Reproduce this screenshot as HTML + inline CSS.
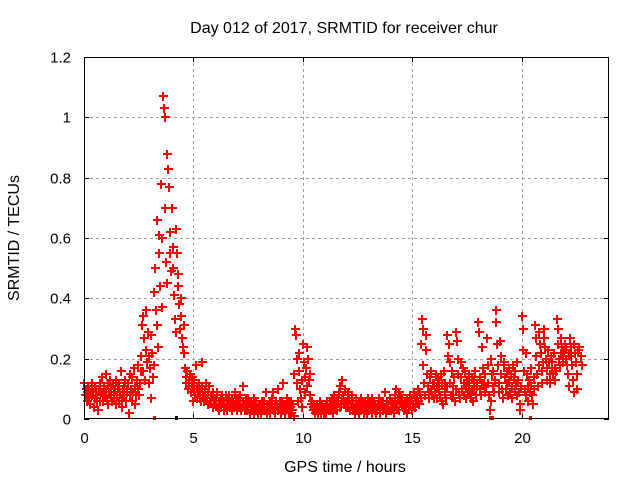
<!DOCTYPE html>
<html><head><meta charset="utf-8"><style>
html,body{margin:0;padding:0;background:#fff;}
svg{display:block;font-family:"Liberation Sans",Arial,sans-serif;}
</style></head><body>
<svg id="chart" width="640" height="480" viewBox="0 0 640 480" xmlns="http://www.w3.org/2000/svg">
<rect width="640" height="480" fill="#fff"/>
<text x="344" y="33" text-anchor="middle" font-size="16" fill="#000">Day 012 of 2017, SRMTID for receiver chur</text>
<text x="345" y="472" text-anchor="middle" font-size="16" fill="#000">GPS time / hours</text>
<text x="19" y="238" text-anchor="middle" font-size="16" fill="#000" transform="rotate(-90 19 238)">SRMTID / TECUs</text>
<g id="grid"></g>
<g id="marks"></g>
<g id="axes"></g>
</svg>
<script>
const xTicks = [0, 5, 10, 15, 20];
const yTicks = [0, 0.2, 0.4, 0.6, 0.8, 1, 1.2];
const yTickLabels = ["0", "0.2", "0.4", "0.6", "0.8", "1", "1.2"];
const bucketHours = 0.2;
const bucketValues = [
".12 .08 .10 .06 .09 .11",".10 .07 .05 .09 .12 .08",".09 .04 .11 .07 .10 .06",".08 .03 .10 .12 .06 .09",
".14 .09 .06 .11 .08 .15",".10 .07 .12 .05 .09 .13",".08 .11 .06 .12 .09 .07",".10 .05 .13 .08 .11 .06",
".12 .09 .16 .07 .04 .10",".11 .08 .13 .06 .10 .09",".12 .02 .08 .15 .10 .06",".14 .09 .17 .05 .11 .08",
".13 .18 .10 .08 .12 .16",".21 .31 .34 .16 .27 .13",".23 .36 .19 .29 .12 .21",".17 .28 .07 .22 .14 .18",
".42 .50 .36 .66 .31 .24",".61 .55 .44 .78 .37 .60","1.07 1.03 1.00 .70 .52 .45",".88 .83 .77 .62 .55 .49",
".70 .57 .50 .41 .33 .29",".63 .55 .48 .44 .38 .30",".40 .34 .27 .24 .31 .22",".17 .12 .14 .16 .10 .13",
".12 .15 .09 .14 .11 .06",".10 .13 .08 .18 .11 .07",".09 .12 .07 .10 .06 .11",".19 .08 .06 .10 .07 .12",
".07 .09 .05 .11 .06 .08",".06 .08 .04 .09 .07 .05",".07 .05 .09 .04 .06 .03",".05 .07 .04 .08 .06 .03",
".06 .04 .08 .05 .03 .07",".05 .08 .04 .06 .03 .07",".06 .04 .09 .05 .07 .03",".05 .07 .04 .06 .08 .03",
".04 .06 .11 .05 .03 .07",".05 .03 .07 .04 .06 .02",".04 .06 .03 .05 .07 .02",".05 .03 .06 .04 .02 .05",
".03 .05 .02 .04 .06 .03",".04 .06 .03 .09 .05 .02",".05 .03 .06 .02 .04 .07",".04 .09 .03 .05 .02 .06",
".05 .03 .10 .04 .06 .02",".04 .06 .03 .12 .05 .02",".05 .03 .07 .04 .02 .06",".04 .02 .06 .03 .05 .01",
".15 .30 .28 .20 .12 .06",".22 .16 .10 .07 .13 .04",".25 .19 .14 .09 .17 .11",".24 .20 .13 .08 .15 .05",
".06 .04 .03 .05 .02 .04",".03 .05 .02 .04 .03 .06",".04 .02 .05 .03 .04 .02",".03 .05 .02 .06 .04 .03",
".04 .06 .03 .05 .07 .02",".05 .08 .04 .06 .03 .07",".06 .09 .04 .11 .05 .07",".13 .08 .05 .10 .06 .04",
".06 .09 .04 .07 .03 .05",".05 .08 .03 .06 .04 .02",".04 .07 .03 .05 .06 .02",".05 .03 .07 .04 .06 .02",
".04 .06 .03 .05 .02 .07",".05 .03 .06 .04 .07 .02",".04 .06 .03 .05 .02 .04",".03 .05 .07 .04 .02 .06",
".05 .03 .06 .04 .09 .02",".04 .06 .03 .05 .03 .07",".05 .03 .06 .04 .02 .05",".08 .05 .10 .04 .07 .03",
".09 .06 .08 .05 .07 .04",".05 .03 .06 .04 .07 .02",".06 .04 .08 .05 .07 .03",".07 .05 .09 .04 .08 .06",
".08 .06 .10 .05 .09 .07",".25 .33 .30 .18 .12 .08",".28 .23 .15 .11 .09 .07",".14 .10 .16 .08 .12 .07",
".12 .09 .15 .07 .11 .14",".13 .10 .08 .15 .06 .12",".05 .16 .09 .12 .07 .11",".28 .21 .25 .19 .12 .08",
".16 .11 .08 .14 .06 .10",".29 .26 .20 .15 .09 .07",".19 .14 .10 .17 .08 .12",".16 .11 .07 .13 .09 .15",
".12 .09 .07 .14 .10 .06",".13 .10 .16 .08 .12 .11",".32 .29 .14 .10 .08 .12",".24 .17 .12 .09 .15 .11",
".27 .18 .12 .08 .03 .06",".20 .15 .11 .16 .09 .13",".36 .32 .25 .18 .12 .09",".26 .21 .15 .10 .07 .18",
".19 .14 .10 .16 .12 .08",".17 .13 .09 .15 .11 .07",".18 .14 .10 .16 .12 .08",".19 .13 .09 .05 .03 .11",
".34 .30 .23 .16 .10 .08",".22 .15 .11 .06 .13 .09",".17 .12 .08 .05 .14 .10",".31 .27 .21 .15 .11 .18",
".29 .25 .22 .16 .12 .19",".30 .27 .24 .20 .17 .13",".23 .19 .15 .12 .21 .17",".19 .15 .22 .17 .13 .16",
".33 .30 .25 .20 .18 .22",".27 .24 .21 .19 .23 .25",".24 .20 .18 .15 .11 .22",".27 .24 .21 .18 .13 .09",
".25 .22 .19 .15 .10 .23",".24 .21 .18"
];
const zeroHours = [3.2, 4.2, 18.55, 18.65, 20.4];

const PL = 84, PR = 609, PT = 57, PB = 419, XMAX = 24, YMAX = 1.2;
function xs(h){ return PL + h / XMAX * (PR - PL); }
function ys(v){ return PB - v / YMAX * (PB - PT); }
const NS = "http://www.w3.org/2000/svg";
function mk(tag, attrs, parent){
  const e = document.createElementNS(NS, tag);
  for (const k in attrs) e.setAttribute(k, attrs[k]);
  parent.appendChild(e); return e;
}
const grid = document.getElementById('grid');
const axes = document.getElementById('axes');
const marks = document.getElementById('marks');

yTicks.forEach((v, i) => {
  const y = Math.round(ys(v)) + 0.5;
  if (v > 0 && v < YMAX) {
    const g = mk('line', {x1: PL, x2: PR, y1: y, y2: y, stroke: '#a0a0a0', 'stroke-dasharray': '3,3', 'stroke-width': 1}, grid);
    
    
  }
  const t = mk('line', {x1: PL, x2: PL + 5, y1: y, y2: y, stroke: '#000'}, axes);
  
  
  const t2 = mk('line', {x1: PR - 5, x2: PR, y1: y, y2: y, stroke: '#000'}, axes);
  
  
  const lb = mk('text', {x: 71, y: y + 5, 'text-anchor': 'end', 'font-size': 15, fill: '#000'}, axes);
  lb.textContent = yTickLabels[i];
  
  
});
xTicks.forEach(h => {
  const x = Math.round(xs(h)) + 0.5;
  if (h > 0) {
    const g = mk('line', {x1: x, x2: x, y1: PT, y2: PB, stroke: '#a0a0a0', 'stroke-dasharray': '3,3', 'stroke-width': 1}, grid);
    
    
  }
  const t = mk('line', {x1: x, x2: x, y1: PB - 5, y2: PB, stroke: '#000'}, axes);
  
  
  const t2 = mk('line', {x1: x, x2: x, y1: PT, y2: PT + 5, stroke: '#000'}, axes);
  
  
  const lb = mk('text', {x: x, y: 443, 'text-anchor': 'middle', 'font-size': 15, fill: '#000'}, axes);
  lb.textContent = String(h);
  
  
});
const frame = mk('rect', {x: PL + 0.5, y: PT + 0.5, width: PR - PL - 1, height: PB - PT - 1, fill: 'none', stroke: '#000', 'stroke-width': 1}, axes);



let d = '';
bucketValues.forEach((row, i) => {
  const vals = row.trim().split(/\s+/).map(Number);
  vals.forEach((v, k) => {
    const h = i * bucketHours + (k + 0.5) * bucketHours / vals.length;
    const x = Math.round(xs(h)), y = Math.round(ys(v));
    d += `M${x-4} ${y}h9M${x} ${y-4}v9`;
  });
});
const p = mk('path', {d: d, stroke: '#ff0000', 'stroke-width': 2, fill: 'none', 'shape-rendering': 'crispEdges'}, marks);


zeroHours.forEach(h => {
  const r = mk('rect', {x: Math.round(xs(h)) - 1, y: PB - 3, width: 3, height: 4, fill: h === 4.2 ? '#000' : '#ff0000'}, marks);
  
  
});
</script>
</body></html>
